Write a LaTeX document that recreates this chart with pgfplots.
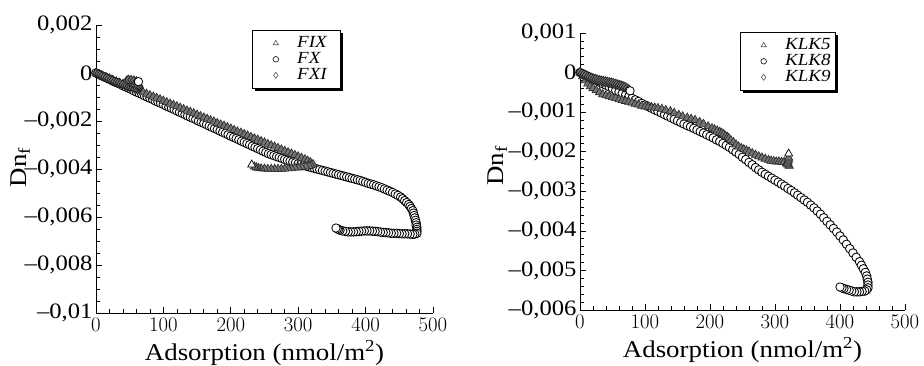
\documentclass[border=0pt]{standalone}
\usepackage{fontspec}
\setmainfont{Liberation Serif}[FakeStretch=1.12]
\usepackage{pgfplots}
\pgfplotsset{compat=1.18}
\usetikzlibrary{shadows}
\newcommand{\legf}{\fontsize{17}{17}\selectfont\itshape}

\pgfplotsset{
  myax/.style={
    scale only axis,
    axis lines*=left,
    axis line style={line width=0.8pt, black},
    xmin=0, xmax=500,
    xtick={0,100,200,300,400,500},
    minor x tick num=4,
    scaled y ticks=false,
    tick align=inside,
    major tick length=6pt,
    minor tick length=3.5pt,
    every tick/.style={line width=0.7pt, black},
    tick label style={font=\fontsize{22}{24}\selectfont},
    xticklabel style={yshift=-2pt},
    label style={font=\fontsize{24}{27}\selectfont},
    xlabel={Adsorption (nmol/m\textsuperscript{2})},
    ylabel={Dn\textsubscript{f}},
    xlabel style={yshift=-2pt},
    legend cell align=left,
    legend style={draw=black, line width=0.8pt, fill=white,
      drop shadow={shadow xshift=2.5pt, shadow yshift=-2.5pt, fill=black, opacity=1},
      font=\legf,
      inner xsep=0pt, inner ysep=5pt, row sep=0pt, column sep=0pt,
      nodes={inner sep=0pt, text height=12pt, text depth=4pt},
      anchor=north west},
    circ/.style={only marks, mark=*, mark size=4.3pt, mark options={draw=black, fill=white, line width=0.85pt}},
    tri/.style={only marks, mark=triangle*, mark size=4.8pt, mark options={draw=black!85, fill=black!55, line width=0.6pt}},
    dia/.style={only marks, mark=diamond*, mark size=4.4pt, mark options={draw=black!90, fill=black!55, line width=0.6pt}},
    endc/.style={only marks, mark=*, mark size=4.2pt, mark options={draw=black, fill=white, line width=0.8pt}},
    endt/.style={only marks, mark=triangle*, mark size=4.6pt, mark options={draw=black, fill=white, line width=0.7pt}},
    legtri/.style={legend image code/.code={\draw[mark=triangle, mark size=3pt, mark options={draw=black!65, line width=0.6pt}] plot coordinates {(23pt,0pt)}; \path (0pt,0pt) (44pt,0pt);}},
    legcirc/.style={legend image code/.code={\draw[mark=o, mark size=2.8pt, mark options={draw=black!85, line width=0.7pt}] plot coordinates {(23pt,0pt)}; \path (0pt,0pt) (44pt,0pt);}},
    legdia/.style={legend image code/.code={\draw[mark=diamond, mark size=3pt, mark options={draw=black!65, line width=0.6pt}] plot coordinates {(23pt,0pt)}; \path (0pt,0pt) (44pt,0pt);}},
  }
}

\begin{document}
\begin{tikzpicture}
\useasboundingbox (0,0) rectangle (924pt,366pt);

% ---------------- left panel ----------------
\begin{axis}[myax,
  at={(96pt,53pt)}, anchor=south west, width=337pt, height=288pt,
  ymin=-0.01, ymax=0.002,
  ytick={-0.01,-0.008,-0.006,-0.004,-0.002,0,0.002},
  yticklabels={{\textendash0,01},{\textendash0,008},{\textendash0,006},{\textendash0,004},{\textendash0,002},{0},{0,002}},
  minor y tick num=3,
  ylabel style={at={(axis description cs:-0.225,0.505)}, anchor=center},
  legend style={at={(0.463,0.983)}},
]
\addlegendimage{legtri}
\addlegendentry{FIX\hspace*{14pt}}
\addlegendimage{legcirc}
\addlegendentry{FX}
\addlegendimage{legdia}
\addlegendentry{FXI\hspace*{14pt}}

% FX (circles), long series
\addplot[circ, forget plot] coordinates {
(0,0) (4,-0.00005) (8,-0.00011) (12,-0.00016) (16,-0.00021) (20,-0.00026)
(24,-0.00032) (28,-0.00037) (32,-0.00042) (36,-0.00047) (40,-0.00053)
(44,-0.00058) (48,-0.00063) (52,-0.00068) (56,-0.00074) (60,-0.00079)
(64,-0.00084) (68,-0.00089) (72,-0.00095) (76,-0.00100) (80,-0.00105)
(84,-0.00110) (88,-0.00116) (92,-0.00121) (96,-0.00126) (100,-0.00131)
(104,-0.00137) (108,-0.00142) (112,-0.00147) (116,-0.00152) (120,-0.00158)
(124,-0.00163) (128,-0.00168) (132,-0.00173) (136,-0.00179) (140,-0.00184)
(144,-0.00189) (148,-0.00194) (152,-0.00200) (156,-0.00205) (160,-0.00210)
(164,-0.00215) (168,-0.00221) (172,-0.00226) (176,-0.00231) (180,-0.00236)
(184,-0.00242) (188,-0.00247) (192,-0.00252) (196,-0.00257) (200,-0.00263)
(204,-0.00268) (208,-0.00273) (212,-0.00278) (216,-0.00284) (220,-0.00289)
(224,-0.00294) (228,-0.00299) (232,-0.00305) (236,-0.00310) (240,-0.00315)
(244,-0.00320) (248,-0.00326) (252,-0.00331) (256,-0.00336) (260,-0.00340)
(264,-0.00344) (268,-0.00348) (272,-0.00352) (276,-0.00356) (280,-0.00360)
(284,-0.00364) (288,-0.00367) (292,-0.00371) (296,-0.00374) (300,-0.00378)
(304,-0.00381) (308,-0.00385) (312,-0.00388) (316,-0.00391) (320,-0.00394)
(324,-0.00397) (328,-0.00400) (332,-0.00403) (336,-0.00406) (340,-0.00409)
(344,-0.00412) (348,-0.00415) (352,-0.00418) (356,-0.00421) (360,-0.00424)
(364,-0.00427) (368,-0.00430) (372,-0.00433) (376,-0.00436) (380,-0.00439)
(384,-0.00442) (388,-0.00445) (392,-0.00448) (396,-0.00452) (400,-0.00456)
(404,-0.00460) (408,-0.00463) (412,-0.00466) (416,-0.00470) (420,-0.00474)
(424,-0.00478) (428,-0.00483) (432,-0.00488) (436,-0.00493) (440,-0.00498)
(444,-0.00504) (448,-0.00510) (452,-0.00517) (455,-0.00524) (458,-0.00532)
(461,-0.00540) (464,-0.00548) (466,-0.00556) (468,-0.00565) (470,-0.00574)
(471,-0.00584) (472,-0.00594) (473,-0.00604) (474,-0.00614) (475,-0.00624)
(475,-0.00634) (476,-0.00643) (476,-0.00652) (476,-0.00660) (476,-0.00668)
(473,-0.00671) (470,-0.00672) (466,-0.00671) (462,-0.00670) (458,-0.00670)
(454,-0.00670) (450,-0.00669) (446,-0.00668) (442,-0.00668) (438,-0.00668)
(434,-0.00666) (430,-0.00665) (426,-0.00664) (422,-0.00663) (418,-0.00661)
(414,-0.00660) (410,-0.00659) (406,-0.00658) (402,-0.00658) (398,-0.00658)
(394,-0.00659) (390,-0.00660) (386,-0.00661) (382,-0.00662) (378,-0.00662)
(374,-0.00662) (370,-0.00660) (366,-0.00658) (362,-0.00655) (360,-0.00652)
(358,-0.00649)
};

% FIX (triangles)
\addplot[tri, forget plot] coordinates {
(0,0) (5,-0.00006) (10,-0.00012) (15,-0.00017) (20,-0.00023) (25,-0.00029)
(30,-0.00035) (35,-0.00041) (40,-0.00046) (45,-0.00052) (50,-0.00058)
(55,-0.00064) (60,-0.00070) (65,-0.00075) (70,-0.00081) (75,-0.00087)
(80,-0.00093) (85,-0.00099) (90,-0.00104) (95,-0.00110) (100,-0.00116)
(105,-0.00122) (110,-0.00128) (115,-0.00133) (120,-0.00139) (125,-0.00145)
(130,-0.00151) (135,-0.00157) (140,-0.00162) (145,-0.00168) (150,-0.00174)
(155,-0.00180) (160,-0.00186) (165,-0.00191) (170,-0.00197) (175,-0.00203)
(180,-0.00209) (185,-0.00215) (190,-0.00220) (195,-0.00226) (200,-0.00232)
(205,-0.00238) (210,-0.00244) (215,-0.00249) (220,-0.00255) (225,-0.00261)
(230,-0.00267) (235,-0.00273) (240,-0.00278) (245,-0.00284) (250,-0.00290)
(255,-0.00296) (260,-0.00302) (265,-0.00307) (270,-0.00313) (275,-0.00319)
(280,-0.00325) (285,-0.00331) (290,-0.00336) (295,-0.00342) (300,-0.00348)
(305,-0.00354) (310,-0.00360) (314,-0.00366) (318,-0.00372) (322,-0.00380)
(319,-0.00385) (316,-0.00388) (311,-0.00390) (305,-0.00392) (300,-0.00394)
(295,-0.00395) (290,-0.00397) (285,-0.00398) (280,-0.00399) (275,-0.00400)
(270,-0.00400) (265,-0.00400) (260,-0.00400) (255,-0.00400) (250,-0.00399)
(245,-0.00398) (241,-0.00396) (238,-0.00394) (235,-0.00390)
};

% FXI (diamonds), short series
\addplot[dia, forget plot] coordinates {
(0,0) (3,-0.00004) (6,-0.00008) (9,-0.00012) (12,-0.00016) (15,-0.0002)
(18,-0.00024) (21,-0.00028) (24,-0.00031) (27,-0.00035) (30,-0.00038)
(33,-0.00041) (36,-0.00044) (39,-0.00047) (42,-0.0005) (45,-0.00053)
(48,-0.00055) (51,-0.00058) (54,-0.0006) (57,-0.00062) (60,-0.00063)
(63,-0.00063) (65,-0.00061) (65,-0.00057) (64,-0.00053) (62,-0.00049)
(59,-0.00046) (55,-0.00042) (51,-0.00038) (48,-0.00034) (46,-0.0003)
(48,-0.00027) (52,-0.00028) (56,-0.0003) (60,-0.00033)
};
\addplot[endc, forget plot] coordinates {(63,-0.00036)};
\addplot[endt, forget plot] coordinates {(231,-0.00382)};
\addplot[endc, forget plot] coordinates {(356,-0.00646)};
\end{axis}

% ---------------- right panel ----------------
\begin{axis}[myax,
  at={(580pt,56pt)}, anchor=south west, width=325pt, height=277pt,
  ymin=-0.006, ymax=0.001,
  ytick={-0.006,-0.005,-0.004,-0.003,-0.002,-0.001,0,0.001},
  yticklabels={{\textendash0,006},{\textendash0,005},{\textendash0,004},{\textendash0,003},{\textendash0,002},{\textendash0,001},{0},{0,001}},
  minor y tick num=4,
  ylabel style={at={(axis description cs:-0.255,0.52)}, anchor=center},
  legend style={at={(0.492,1.004)}},
]
\addlegendimage{legtri}
\addlegendentry{KLK5\hspace*{5pt}}
\addlegendimage{legcirc}
\addlegendentry{KLK8\hspace*{5pt}}
\addlegendimage{legdia}
\addlegendentry{KLK9\hspace*{5pt}}

% KLK8 (circles), long series
\addplot[circ, forget plot] coordinates {
(0,0) (5,-0.00004) (10,-0.00008) (15,-0.00012) (20,-0.00016) (25,-0.0002)
(30,-0.00024) (35,-0.00028) (40,-0.00032) (45,-0.00036) (50,-0.0004)
(55,-0.00045) (60,-0.00049) (65,-0.00053) (70,-0.00057) (75,-0.00061)
(80,-0.00065) (85,-0.00069) (90,-0.00073) (95,-0.00078) (100,-0.00082)
(105,-0.00086) (110,-0.0009) (115,-0.00094) (120,-0.00098) (125,-0.00102)
(130,-0.00106) (135,-0.0011) (140,-0.00114) (145,-0.00118) (150,-0.00122)
(155,-0.00126) (160,-0.0013) (165,-0.00134) (170,-0.00137) (175,-0.00141)
(180,-0.00145) (185,-0.00149) (190,-0.00153) (195,-0.00157) (200,-0.00161)
(205,-0.00165) (210,-0.0017) (215,-0.00174) (220,-0.00179) (225,-0.00184)
(230,-0.00189) (235,-0.00195) (240,-0.00201) (245,-0.00207) (250,-0.00214)
(255,-0.0022) (260,-0.00227) (265,-0.00233) (270,-0.0024) (275,-0.00246)
(280,-0.00252) (285,-0.00257) (290,-0.00262) (295,-0.00267) (300,-0.00272)
(305,-0.00277) (310,-0.00282) (315,-0.00287) (320,-0.00293) (325,-0.00298)
(330,-0.00304) (335,-0.0031) (340,-0.00316) (345,-0.00322) (350,-0.00328)
(355,-0.00335) (360,-0.00342) (365,-0.0035) (370,-0.00358) (375,-0.00367)
(380,-0.00376) (385,-0.00385) (390,-0.00394) (395,-0.00403) (400,-0.00413)
(405,-0.00423) (410,-0.00434) (415,-0.00445) (420,-0.00456) (425,-0.00467)
(430,-0.00478) (433,-0.00487) (436,-0.00496) (439,-0.00505) (441,-0.00514)
(442,-0.00522) (443,-0.0053) (443,-0.00537) (443,-0.00544) (441,-0.00549)
(438,-0.00552) (434,-0.00553) (430,-0.00554) (426,-0.00554) (422,-0.00554)
(418,-0.00552) (414,-0.0055) (410,-0.00548) (406,-0.00546) (403,-0.00544)
};

% KLK5 (triangles)
\addplot[tri, forget plot] coordinates {
(0,0) (4,-0.0001) (8,-0.0002) (12,-0.00028) (16,-0.00035) (20,-0.0004)
(25,-0.00045) (30,-0.0005) (35,-0.00055) (40,-0.00058) (45,-0.0006)
(50,-0.00063) (55,-0.00065) (60,-0.00068) (65,-0.0007) (70,-0.00072)
(75,-0.00074) (80,-0.00076) (85,-0.00079) (90,-0.00081) (95,-0.00084)
(100,-0.00086) (105,-0.00087) (110,-0.00088) (115,-0.00089) (120,-0.0009)
(126,-0.00092) (132,-0.00095) (139,-0.00098) (145,-0.00102) (152,-0.00107)
(158,-0.00111) (165,-0.00114) (171,-0.00117) (177,-0.0012) (184,-0.00125)
(190,-0.0013) (197,-0.00136) (203,-0.00141) (207,-0.00144) (211,-0.00147)
(215,-0.0015) (218,-0.00153) (221,-0.00156) (224,-0.0016) (227,-0.00163)
(229,-0.00166) (232,-0.00171) (236,-0.00176) (240,-0.00182) (244,-0.00187)
(248,-0.00191) (252,-0.00194) (256,-0.00197) (260,-0.002) (265,-0.00204)
(270,-0.00208) (275,-0.00212) (280,-0.00215) (285,-0.00218) (290,-0.00221)
(294,-0.00223) (298,-0.00224) (302,-0.00225) (306,-0.00225) (310,-0.00226)
(314,-0.00226) (318,-0.00229) (320,-0.00232) (322,-0.00236) (320,-0.00233)
(318,-0.0023) (320,-0.00225) (321,-0.0022) (321,-0.00215)
};

% KLK9 (diamonds), short series
\addplot[dia, mark size=5pt, forget plot] coordinates {
(0,0) (3,-0.00003) (6,-0.00005) (9,-0.00007) (12,-0.0001) (15,-0.00012)
(18,-0.00014) (21,-0.00016) (24,-0.00017) (27,-0.00019) (30,-0.0002)
(33,-0.00021) (36,-0.00022) (39,-0.00023) (42,-0.00024) (45,-0.00025)
(48,-0.00026) (51,-0.00027) (54,-0.00029) (57,-0.0003) (60,-0.00032)
(63,-0.00033) (66,-0.00035) (69,-0.00037) (72,-0.0004) (75,-0.00043)
};
\addplot[endc, forget plot] coordinates {(77,-0.00046)};
\addplot[endt, forget plot] coordinates {(321,-0.00205)};
\addplot[endc, forget plot] coordinates {(400,-0.00542)};
\end{axis}
\end{tikzpicture}
\end{document}
